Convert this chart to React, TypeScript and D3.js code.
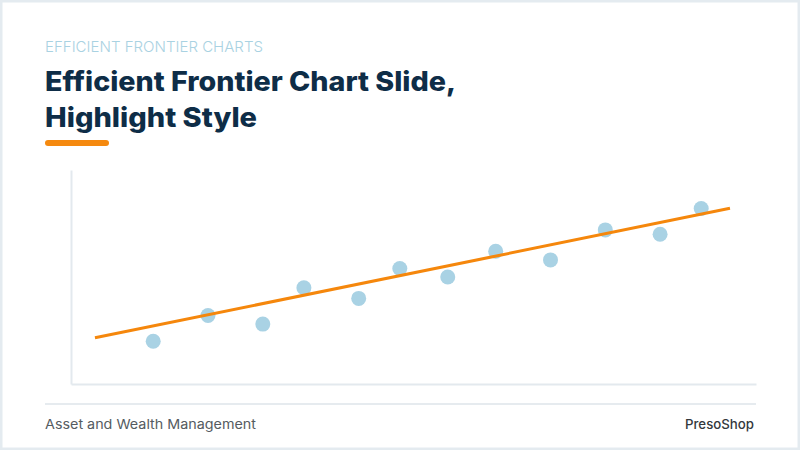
import React, { useRef, useEffect } from "react";
import * as d3 from "d3";

const WIDTH = 800;
const HEIGHT = 450;

// portfolio risk (x) vs expected return (y)
const riskValues = [12, 20, 28, 34, 42, 48, 55, 62, 70, 78, 86, 92];
const returnValues = [20, 32, 28, 45, 40, 54, 50, 62, 58, 72, 70, 82];

// frontier trend line endpoints
const frontierRisk = [3.5, 96.2];
const frontierReturn = [21.6, 82.1];

const kicker = "EFFICIENT FRONTIER CHARTS";
const titleLines = ["Efficient Frontier Chart Slide,", "Highlight Style"];
const footerLeft = "Asset and Wealth Management";
const footerRight = "PresoShop";

const plot = { left: 71, right: 756, top: 170, bottom: 384 };
const font = "Inter, 'Noto Sans', sans-serif";

const App: React.FC = () => {
  const svgRef = useRef<SVGSVGElement | null>(null);

  useEffect(() => {
    if (!svgRef.current) return;
    const svg = d3.select(svgRef.current);
    svg.selectAll("*").remove();

    // card
    svg
      .append("rect")
      .attr("x", 1)
      .attr("y", 1)
      .attr("width", WIDTH - 2)
      .attr("height", HEIGHT - 2)
      .attr("fill", "#fff")
      .attr("stroke", "#e4ebf0")
      .attr("stroke-width", 3);

    // heading
    svg
      .append("text")
      .attr("x", 45)
      .attr("y", 52)
      .attr("font-family", font)
      .attr("font-size", 15)
      .attr("font-weight", 300)
      .attr("fill", "#a9d2e2")
      .attr("textLength", 218)
      .attr("lengthAdjust", "spacingAndGlyphs")
      .text(kicker);

    svg
      .selectAll("text.title")
      .data(titleLines)
      .enter()
      .append("text")
      .attr("class", "title")
      .attr("x", 45)
      .attr("y", (_, i) => 91 + i * 36)
      .attr("font-family", font)
      .attr("font-size", 27)
      .attr("font-weight", 800)
      .attr("fill", "#0e2d47")
      .attr("textLength", (_, i) => (i === 0 ? 411 : 212))
      .attr("lengthAdjust", "spacingAndGlyphs")
      .text((d) => d);

    svg
      .append("rect")
      .attr("x", 45)
      .attr("y", 140)
      .attr("width", 64)
      .attr("height", 6)
      .attr("rx", 3)
      .attr("fill", "#f5890f");

    // scales
    const x = d3.scaleLinear().domain([0, 100]).range([plot.left, plot.right]);
    const y = d3.scaleLinear().domain([0, 100]).range([plot.bottom, plot.top]);

    const g = svg.append("g");

    // axes (lines only)
    g.append("g")
      .attr("transform", `translate(${plot.left},0)`)
      .call(d3.axisLeft(y).ticks(0).tickSize(0))
      .call((a) => a.select(".domain").attr("stroke", "#e3e9ee").attr("stroke-width", 2));

    g.append("g")
      .attr("transform", `translate(0,${plot.bottom})`)
      .call(d3.axisBottom(x).ticks(0).tickSize(0))
      .call((a) => a.select(".domain").attr("stroke", "#e3e9ee").attr("stroke-width", 2));

    const points = riskValues.map((r, i) => ({ risk: r, ret: returnValues[i] }));

    g.selectAll("circle")
      .data(points)
      .enter()
      .append("circle")
      .attr("cx", (d) => x(d.risk))
      .attr("cy", (d) => y(d.ret))
      .attr("r", 7.5)
      .attr("fill", "#a9d2e4");

    const line = d3
      .line<number>()
      .x((d) => x(d))
      .y((_, i) => y(frontierReturn[i]));

    g.append("path")
      .datum(frontierRisk)
      .attr("fill", "none")
      .attr("stroke", "#f5870c")
      .attr("stroke-width", 3)
      .attr("d", line);

    // footer
    svg
      .append("line")
      .attr("x1", 45)
      .attr("x2", 756)
      .attr("y1", 404)
      .attr("y2", 404)
      .attr("stroke", "#e6ebef")
      .attr("stroke-width", 2);

    svg
      .append("text")
      .attr("x", 45)
      .attr("y", 429)
      .attr("font-family", font)
      .attr("font-size", 13)
      .attr("fill", "#555b61")
      .attr("textLength", 211)
      .attr("lengthAdjust", "spacingAndGlyphs")
      .text(footerLeft);

    svg
      .append("text")
      .attr("x", 754)
      .attr("y", 429)
      .attr("text-anchor", "end")
      .attr("font-family", font)
      .attr("font-size", 13)
      .attr("font-weight", 500)
      .attr("fill", "#33383d")
      .attr("textLength", 69)
      .attr("lengthAdjust", "spacingAndGlyphs")
      .text(footerRight);
  }, []);

  return (
    <div style={{ position: "fixed", top: 0, left: 0 }}>
      <svg ref={svgRef} width={WIDTH} height={HEIGHT} style={{ display: "block" }} />
    </div>
  );
};

export default App;
